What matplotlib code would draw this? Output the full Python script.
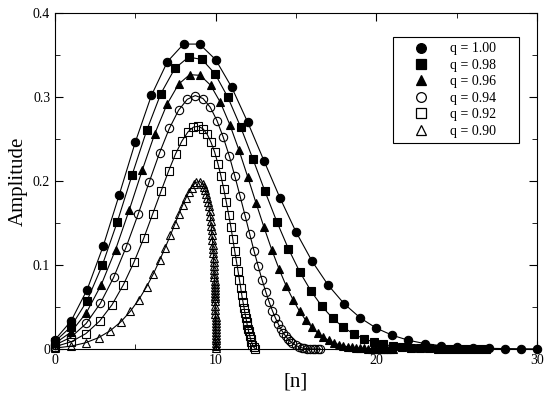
import numpy as np
import matplotlib
matplotlib.use("Agg")
import matplotlib.pyplot as plt
from matplotlib.lines import Line2D

plt.rcParams['font.family'] = ['Liberation Serif']

# x positions [n] in units of 0.01, amplitudes in units of 1e-4
x100 = [0, 100, 200, 300, 400, 500, 600, 700, 800, 900, 1000, 1100, 1200, 1300, 1400, 1500,
        1600, 1700, 1800, 1900, 2000, 2100, 2200, 2300, 2400, 2500, 2600, 2700, 2800, 2900, 3000]
y100 = [111, 333, 707, 1225, 1837, 2464, 3018, 3422, 3630, 3630, 3444, 3115, 2697, 2244, 1800,
        1394, 1045, 761, 538, 370, 248, 163, 104, 65, 40, 24, 14, 8, 5, 3, 1]

x098 = [0, 100, 198, 294, 388, 480, 571, 659, 746, 831, 915, 996, 1076, 1155, 1232, 1307, 1381,
        1453, 1524, 1594, 1662, 1729, 1794, 1858, 1921, 1983, 2043, 2102, 2160, 2217, 2273, 2327,
        2381, 2433, 2484, 2535, 2584, 2632, 2680]
y098 = [89, 267, 569, 995, 1515, 2073, 2603, 3041, 3340, 3475, 3447, 3276, 2996, 2645, 2261, 1876,
        1514, 1192, 916, 688, 506, 365, 259, 180, 123, 83, 55, 36, 23, 15, 9, 6, 4,
        2.2, 1.3, 0.8, 0.5, 0.3, 0.2]

x096 = [0, 100, 196, 288, 377, 462, 543, 621, 697, 769, 838, 904, 968, 1029, 1088, 1145, 1199,
        1251, 1301, 1349, 1395, 1439, 1482, 1522, 1561, 1599, 1635, 1670, 1703, 1735, 1765, 1795,
        1823, 1850, 1876, 1901, 1925, 1948, 1970, 1991, 2012, 2031, 2050, 2068, 2085, 2102]
y096 = [67, 202, 434, 766, 1184, 1654, 2129, 2562, 2913, 3152, 3266, 3258, 3141, 2937, 2671, 2368,
        2052, 1740, 1448, 1182, 950, 751, 585, 450, 342, 256, 190, 140, 102, 73, 52, 37, 26, 18,
        13, 9, 6, 4, 2.7, 1.8, 1.2, 0.8, 0.5, 0.4, 0.2, 0.2]

x094 = [0, 100, 194, 282, 365, 443, 517, 586, 651, 712, 769, 823, 873, 921, 966, 1008, 1047, 1085,
        1119, 1152, 1183, 1212, 1239, 1265, 1289, 1312, 1333, 1353, 1372, 1390, 1406, 1422, 1437,
        1450, 1463, 1476, 1498, 1517, 1535, 1550, 1570, 1586, 1604, 1621, 1637, 1652]
y094 = [47, 141, 304, 543, 852, 1214, 1602, 1986, 2336, 2627, 2842, 2972, 3017, 2982, 2879, 2720,
        2522, 2297, 2060, 1820, 1588, 1368, 1166, 983, 821, 680, 559, 456, 369, 297, 238, 189, 150,
        118, 92, 72, 44, 26, 15, 9, 4, 2, 1, 0, 0, 0]

x092 = [0, 100, 192, 277, 355, 426, 492, 553, 608, 660, 707, 750, 790, 827, 861, 892, 921, 947,
        971, 994, 1014, 1033, 1050, 1066, 1081, 1095, 1107, 1118, 1129, 1139, 1148, 1156, 1163,
        1170, 1177, 1182, 1188, 1193, 1197, 1202, 1205, 1212, 1218, 1223, 1229, 1236, 1247]
y092 = [28, 85, 183, 331, 527, 766, 1036, 1322, 1608, 1878, 2119, 2321, 2476, 2583, 2641, 2652,
        2622, 2556, 2461, 2342, 2206, 2059, 1906, 1751, 1598, 1449, 1306, 1172, 1046, 930, 824, 727,
        639, 561, 490, 428, 372, 324, 280, 243, 210, 156, 115, 85, 53, 24, 2]

x090 = [0, 100, 190, 271, 344, 410, 469, 522, 570, 613, 651, 686, 718, 746, 771, 794, 815, 833,
        850, 865, 878, 902, 920, 928, 935, 942, 948, 953, 958, 962, 966, 969, 972, 975, 977, 980,
        982, 984, 985, 987, 988, 989, 990, 991, 992, 993, 994, 994, 995, 995, 996, 996, 997, 997,
        998, 998, 999, 999, 999, 999, 999, 1000, 1000, 1000, 1000, 1000, 1000, 1000]
y090 = [11, 34, 74, 135, 218, 324, 449, 589, 741, 898, 1055, 1208, 1353, 1487, 1606, 1710, 1797,
        1868, 1922, 1960, 1984, 1993, 1959, 1929, 1892, 1849, 1802, 1752, 1698, 1643, 1586, 1528,
        1470, 1413, 1356, 1299, 1244, 1190, 1137, 1086, 1037, 989, 943, 898, 855, 814, 775, 737,
        701, 667, 634, 603, 573, 517, 466, 420, 379, 342, 308, 277, 237, 202, 164, 133, 102, 71,
        40, 10]

labels = ["q = 1.00", "q = 0.98", "q = 0.96", "q = 0.94", "q = 0.92", "q = 0.90"]
series = [(x100, y100), (x098, y098), (x096, y096), (x094, y094), (x092, y092), (x090, y090)]
markers = ['o', 's', '^', 'o', 's', '^']
filled = [True, True, True, False, False, False]

fig = plt.figure(figsize=(5.5, 3.95), dpi=100)
ax = fig.add_axes([55/550, 1-349/395, 482/550, 336/395])

handles = []
for (xs, ys), m, f, lab in zip(series, markers, filled, labels):
    xs = np.array(xs) / 100.0
    ys = np.array(ys) * 1e-4
    fc = 'k' if f else 'none'
    ax.plot(xs, ys, '-', color='k', lw=0.8, marker=m, mfc=fc, mec='k', ms=6, mew=0.8,
            clip_on=False)
    handles.append(Line2D([], [], ls='none', marker=m, mfc=fc, mec='k', ms=7, mew=0.9, label=lab))

ax.set_xlim(0, 30)
ax.set_ylim(0, 0.4)
ax.set_xticks([0, 10, 20, 30])
ax.set_xticklabels(["0", "10", "20", "30"])
ax.set_xticks([5, 15, 25], minor=True)
ax.set_yticks([0, 0.1, 0.2, 0.3, 0.4])
ax.set_yticklabels(["0", "0.1", "0.2", "0.3", "0.4"])
ax.set_yticks([0.05, 0.15, 0.25, 0.35], minor=True)
ax.tick_params(which='both', direction='in', top=True, right=True, labelsize=10)
ax.tick_params(which='major', length=6)
ax.tick_params(which='minor', length=3.5)
ax.set_xlabel("[n]", fontsize=15)
ax.set_ylabel("Amplitude", fontsize=15)

leg = ax.legend(handles=handles, loc='upper left', bbox_to_anchor=(0.701, 0.929, 0.262, 0.0),
                mode='expand', fontsize=10, fancybox=False, edgecolor='k', framealpha=1,
                handlelength=3.3, handletextpad=0.4, labelspacing=0.25, borderaxespad=0)
leg.get_frame().set_linewidth(0.8)

fig.savefig("out.png")
